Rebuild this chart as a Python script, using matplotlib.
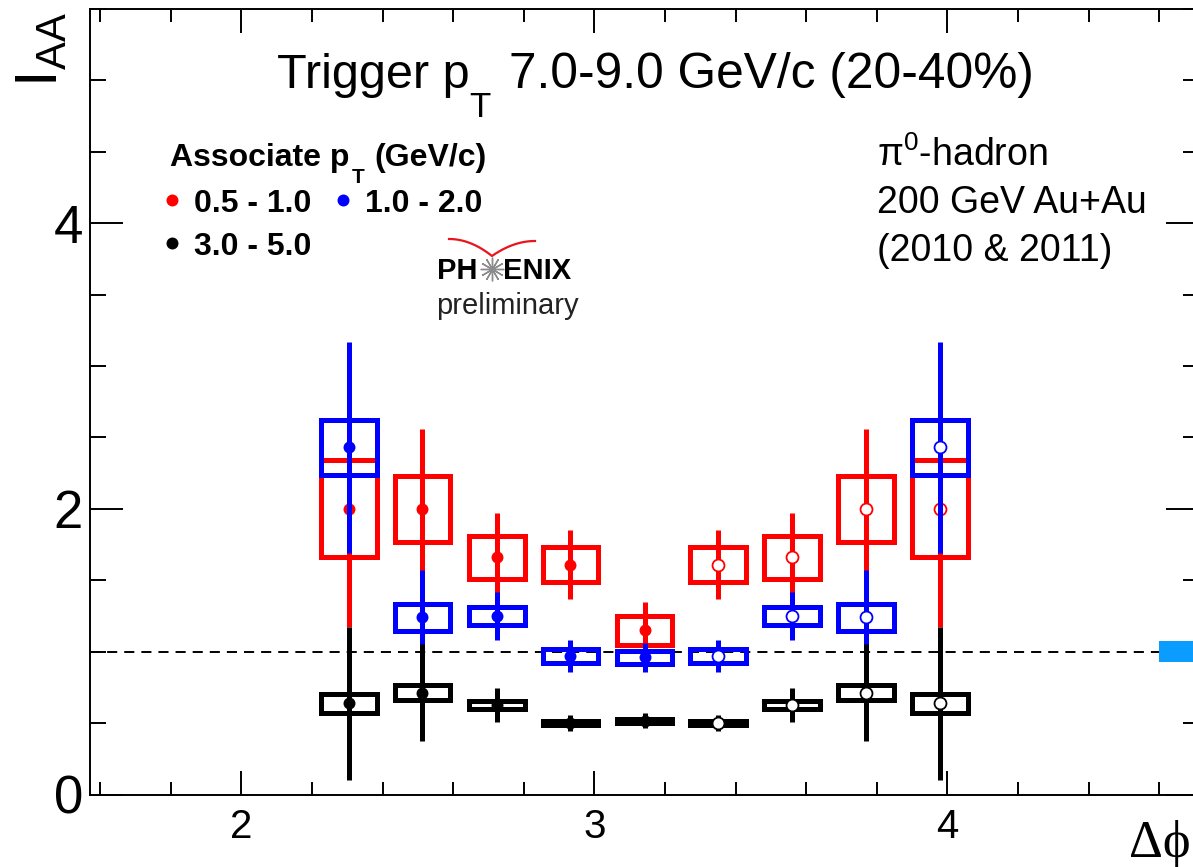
import numpy as np
import matplotlib
matplotlib.use('Agg')
import matplotlib.pyplot as plt
from matplotlib.patches import Rectangle
from matplotlib.ticker import MultipleLocator
from matplotlib import font_manager

# ---------------- data ----------------
dphi = np.array([2.304, 2.513, 2.723, 2.932, 3.142, 3.351, 3.560, 3.770, 3.979])

red_val = np.array([2.00, 2.00, 1.66, 1.61, 1.15, 1.61, 1.66, 2.00, 2.00])
red_stat = np.array([0.83, 0.56, 0.31, 0.24, 0.20, 0.24, 0.31, 0.56, 0.83])
red_sys = np.array([0.34, 0.23, 0.15, 0.125, 0.10, 0.125, 0.15, 0.23, 0.34])

blue_val = np.array([2.43, 1.24, 1.25, 0.97, 0.96, 0.97, 1.25, 1.24, 2.43])
blue_stat = np.array([0.74, 0.33, 0.17, 0.11, 0.10, 0.11, 0.17, 0.33, 0.74])
blue_sys = np.array([0.19, 0.095, 0.063, 0.052, 0.047, 0.052, 0.063, 0.095, 0.19])

black_val = np.array([0.64, 0.714, 0.626, 0.50, 0.517, 0.50, 0.626, 0.714, 0.64])
black_stat = np.array([0.535, 0.342, 0.119, 0.058, 0.053, 0.058, 0.119, 0.342, 0.535])
black_sys = np.array([0.067, 0.055, 0.028, 0.016, 0.015, 0.016, 0.028, 0.055, 0.067])

legend_labels = ['0.5 - 1.0', '1.0 - 2.0', '3.0 - 5.0']
norm_level = 1.0
norm_unc = 0.075
norm_x0 = 4.60

x_ticks = [2, 3, 4]
y_ticks = [0, 2, 4]

# ---------------- style ----------------
W, H = 1193, 867
plt.rcParams['font.family'] = ['Liberation Sans', 'DejaVu Sans']
plt.rcParams['mathtext.fontset'] = 'custom'
plt.rcParams['mathtext.rm'] = 'Liberation Sans'
plt.rcParams['mathtext.it'] = 'Liberation Sans:italic'
plt.rcParams['mathtext.bf'] = 'Liberation Sans:bold'

try:
    font_manager.findfont(font_manager.FontProperties(family='Liberation Sans Narrow'),
                          fallback_to_default=False)
    NARROW = True
except Exception:
    NARROW = False

fig = plt.figure(figsize=(W / 100, H / 100), dpi=100)


def fx(px):
    return px / W


def fy(py):
    return 1 - py / H


ax = fig.add_axes([89.8 / W, 1 - 794.5 / H, (1199 - 89.8) / W, (794.5 - 9) / H])
ax.set_xlim(np.pi / 2, 3 * np.pi / 2)
ax.set_ylim(0, 5.5)

for s in ax.spines.values():
    s.set_linewidth(1.4)

ax.set_xticks(x_ticks)
ax.set_yticks(y_ticks)
ax.xaxis.set_minor_locator(MultipleLocator(0.2))
ax.yaxis.set_minor_locator(MultipleLocator(0.5))
ax.tick_params(which='both', direction='in', top=True, right=True, width=1.4)
ax.tick_params(axis='x', which='major', length=17, labelsize=29, pad=10)
ax.tick_params(axis='x', which='minor', length=9.4)
ax.tick_params(axis='y', which='major', length=23.8, labelsize=38, pad=5)
ax.tick_params(axis='y', which='minor', length=11.5)

# reference line and normalisation box
ax.axhline(norm_level, color='black', lw=1.4, ls=(0, (5.2, 3.6)), zorder=1)
ax.add_patch(Rectangle((norm_x0, norm_level - norm_unc), 3 * np.pi / 2 - norm_x0,
                       2 * norm_unc, facecolor='#0a9cff', edgecolor='none', zorder=2))

box_hw = 0.079
filled = dphi <= np.pi + 1e-3
series = [(red_val, red_stat, red_sys, '#ff0000'),
          (blue_val, blue_stat, blue_sys, '#0000ff'),
          (black_val, black_stat, black_sys, '#000000')]
z = 3
for vals, stat, sys, col in series:
    for x, v, s in zip(dphi, vals, sys):
        ax.add_patch(Rectangle((x - box_hw, v - s), 2 * box_hw, 2 * s, fill=False,
                               edgecolor=col, lw=3.6, joinstyle='miter', zorder=z))
    ax.errorbar(dphi, vals, yerr=stat, fmt='none', ecolor=col, elinewidth=3.6,
                capsize=0, zorder=z + 0.1)
    ax.plot(dphi[filled], vals[filled], 'o', color=col, ms=8.6, mew=0, zorder=z + 0.2)
    ax.plot(dphi[~filled], vals[~filled], 'o', mfc='white', mec=col, ms=8.6,
            mew=1.3, zorder=z + 0.2)
    z += 1

# ---------------- texts ----------------
if NARROW:
    title_fam = ['Liberation Sans Narrow', 'Liberation Sans']
    s1, s2 = 40, 40
else:
    title_fam = ['Liberation Sans']
    s1, s2 = 35, 35.7
fig.text(fx(277), fy(88), 'Trigger p', fontsize=s1, family=title_fam,
         ha='left', va='baseline')
fig.text(fx(469), fy(117), 'T', fontsize=s1 * 0.72, family=title_fam,
         ha='left', va='baseline')
fig.text(fx(509), fy(88), '7.0-9.0 GeV/c (20-40%)', fontsize=s2, family=title_fam,
         ha='left', va='baseline')

# y label
fig.text(fx(42), fy(12), r'$\mathregular{I_{AA}}$', fontsize=43, rotation=90,
         ha='center', va='top')
# x label (cut by the frame edge in the original; kept fully visible here)
fig.text(fx(1191), fy(857), 'Δϕ', fontsize=38, family=['Liberation Serif', 'DejaVu Serif'],
         ha='right', va='baseline')

# legend (manual)
fig.text(fx(170), fy(166), 'Associate p', fontsize=23, weight='bold', ha='left', va='baseline')
fig.text(fx(352), fy(183), 'T', fontsize=15, weight='bold', ha='left', va='baseline')
fig.text(fx(374), fy(166), '(GeV/c)', fontsize=23, weight='bold', ha='left', va='baseline')
leg_pos = [(172, 200), (343, 200), (172, 243)]
for (px, py), lab, (_, _, _, col) in zip(leg_pos, legend_labels, series):
    ax.plot([fx(px)], [fy(py)], 'o', color=col, ms=8.6, mew=0,
            transform=fig.transFigure, clip_on=False)
    fig.text(fx(px + 22), fy(py + 12), lab, fontsize=23, weight='bold',
             ha='left', va='baseline')

# right block
fig.text(fx(877), fy(166), r'$\mathregular{\pi^0}$-hadron', fontsize=27, ha='left', va='baseline')
fig.text(fx(877), fy(213), '200 GeV Au+Au', fontsize=27, ha='left', va='baseline')
fig.text(fx(877), fy(261), '(2010 & 2011)', fontsize=27, ha='left', va='baseline')

# PHENIX preliminary logo
fig.text(fx(437), fy(279), 'PH', fontsize=21, weight='bold', ha='left', va='baseline')
fig.text(fx(503), fy(279), 'ENIX', fontsize=21, weight='bold', ha='left', va='baseline')
ax.plot([fx(492)], [fy(269)], marker=(12, 2, 0), ms=17, mec='#8c8c8c', mew=1.0,
        transform=fig.transFigure, clip_on=False)
tt = np.linspace(0, 1, 30)
lx = 449 + (492 - 449) * tt
ly = 239 + 17 * tt ** 2
rx = 492 + (535 - 492) * tt
ry = 256 - 15 * (1 - (1 - tt) ** 2)
ax.plot(fx(np.concatenate([lx, rx])), fy(np.concatenate([ly, ry])), color='#e8141e', lw=1.6,
        transform=fig.transFigure, clip_on=False)
fig.text(fx(436), fy(314), 'preliminary', fontsize=21, ha='left', va='baseline',
         color='#222222')

fig.savefig('out.png', dpi=100)
